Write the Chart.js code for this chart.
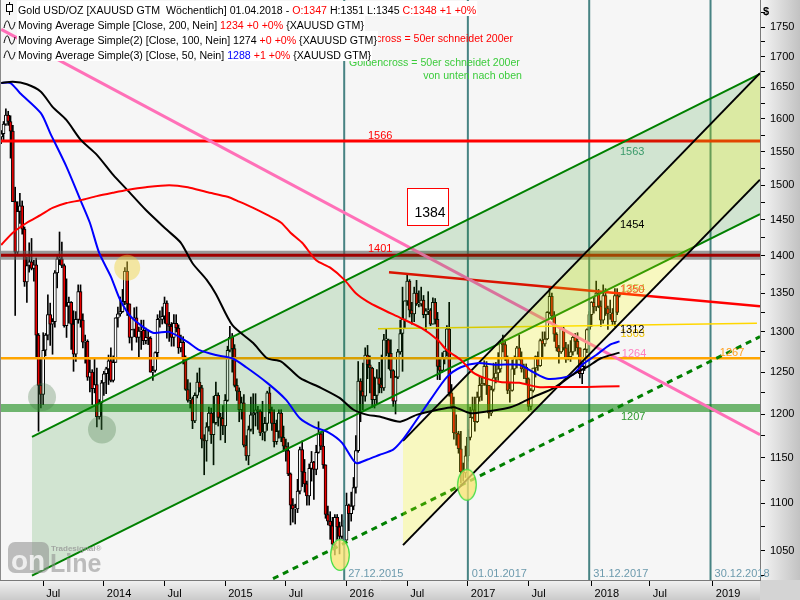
<!DOCTYPE html>
<html><head><meta charset="utf-8">
<script src="https://cdn.jsdelivr.net/npm/chart.js@4.4.1/dist/chart.umd.min.js"></script>
<style>html,body{margin:0;padding:0;background:#fff;}#wrap{width:800px;height:600px;}</style>
</head><body><div id="wrap"><canvas id="c" width="800" height="600"></canvas></div>
<script>
// weekly candles, week 0 = 03.03.2013 (Sunday), last = 01.04.2018
const openP = [1572,1577,1592,1606,1596,1581,1476,1405,1462,1470,1437,1365,1387,1392,1383,1388,1296,1234,1223,1277,1296,1322,1310,1313,1377,1396,1396,1387,1308,1333,1338,1310,1272,1316,1352,1315,1287,1288,1244,1250,1230,1235,1197,1213,
1237,1248,1254,1264,1240,1262,1318,1323,1326,1339,1379,1336,1293,1303,1318,1293,1301,1302,1289,1293,1292,1250,1252,1274,1316,1316,1320,1337,1310,1307,1293,1311,1305,1280,1287,1268,1229,1216,1218,1192,1222,1238,1231,1171,1169,1185,1201,1176,1190,1222,1196,1195,
1186,1216,1277,1293,1279,1234,1227,1205,1213,1164,1152,1182,1199,1201,1205,1203,1178,1179,1189,1225,1205,1189,1168,1180,1201,1173,1163,1158,1132,1098,1094,1094,1113,1159,1134,1121,1108,1138,1145,1137,1156,1177,1163,1142,1088,1081,1076,1057,1085,1075,1065,1076,
1061,1098,1089,1097,1117,1158,1239,1227,1221,1271,1259,1255,1217,1222,1243,1235,1231,1290,1290,1273,1252,1215,1244,1275,1298,1316,1340,1366,1328,1323,1350,1336,1336,1341,1322,1327,1328,1310,1338,1316,1257,1252,1267,1276,1304,1225,1209,1178,1177,1160,1134,1133,
1152,1173,1196,1205,1191,1220,1234,1236,1257,1234,1201,1229,1243,1249,1254,1286,1284,1268,1228,1228,1254,1268,1280,1266,1254,1256,1242,1209,1228,1255,1269,1258,1289,1285,1291,1325,1346,1320,1297,1280,1275,1304,1280,1266,1269,1275,1293,1288,1280,1248,1257,1278,
1303,1322,1338,1332,1350,1333,1315,1347,1330,1323,1324,1313,1347,1347];
const highP = [1582,1596,1616,1612,1605,1590,1497,1476,1488,1477,1440,1398,1418,1424,1394,1397,1298,1267,1299,1298,1348,1337,1317,1380,1400,1433,1419,1389,1369,1345,1339,1327,1326,1361,1361,1323,1296,1290,1265,1253,1267,1255,1217,1240,
1251,1256,1271,1280,1270,1318,1332,1345,1355,1384,1392,1336,1303,1331,1332,1306,1315,1315,1305,1302,1294,1257,1275,1322,1327,1332,1345,1340,1325,1312,1322,1322,1309,1296,1294,1270,1241,1237,1220,1225,1249,1255,1234,1176,1190,1208,1207,1221,1238,1225,1201,1210,
1223,1282,1307,1298,1284,1242,1231,1220,1223,1175,1186,1220,1224,1224,1209,1205,1215,1196,1227,1232,1208,1205,1193,1205,1205,1186,1171,1167,1133,1105,1099,1126,1162,1169,1148,1124,1143,1157,1146,1164,1191,1179,1180,1142,1097,1091,1085,1088,1088,1080,1088,1082,
1111,1099,1112,1128,1175,1263,1242,1261,1280,1283,1270,1256,1244,1253,1262,1271,1297,1304,1291,1290,1253,1245,1278,1315,1358,1340,1375,1368,1338,1358,1367,1353,1358,1347,1330,1352,1330,1344,1343,1325,1266,1274,1276,1308,1338,1235,1220,1199,1180,1180,1144,1163,
1182,1208,1220,1220,1226,1245,1245,1264,1263,1234,1233,1261,1262,1274,1288,1296,1290,1270,1237,1265,1270,1282,1296,1275,1260,1260,1243,1230,1255,1270,1275,1291,1300,1300,1326,1357,1350,1326,1299,1283,1306,1306,1287,1284,1289,1297,1298,1299,1280,1261,1279,1304,
1326,1339,1345,1366,1355,1340,1361,1356,1333,1341,1330,1356,1356,1351];
const lowP = [1562,1566,1590,1590,1540,1476,1321,1402,1445,1430,1359,1338,1378,1381,1366,1269,1180,1207,1211,1270,1290,1283,1272,1306,1357,1388,1384,1306,1293,1311,1278,1251,1263,1311,1306,1280,1261,1240,1226,1211,1225,1185,1194,1182,
1222,1224,1235,1238,1238,1262,1306,1320,1325,1335,1321,1286,1277,1294,1287,1268,1278,1284,1285,1284,1250,1240,1250,1269,1306,1310,1311,1292,1288,1282,1282,1300,1273,1275,1260,1228,1214,1207,1183,1190,1219,1226,1161,1131,1146,1180,1166,1142,1188,1186,1170,1176,
1167,1215,1275,1250,1232,1216,1191,1194,1162,1147,1142,1180,1177,1186,1182,1175,1170,1169,1181,1201,1181,1162,1165,1172,1168,1157,1146,1130,1077,1080,1078,1090,1110,1118,1112,1098,1098,1124,1104,1131,1155,1159,1138,1084,1077,1062,1052,1046,1062,1047,1063,1058,
1061,1071,1081,1093,1111,1156,1191,1205,1215,1242,1225,1208,1207,1212,1225,1225,1228,1270,1254,1243,1209,1200,1242,1272,1251,1305,1334,1319,1310,1313,1334,1332,1333,1318,1302,1322,1308,1310,1310,1241,1241,1250,1260,1270,1221,1206,1171,1164,1155,1122,1124,1128,
1146,1170,1195,1180,1190,1215,1216,1234,1223,1195,1198,1227,1237,1240,1250,1275,1264,1224,1214,1227,1247,1255,1265,1250,1242,1236,1204,1205,1226,1244,1252,1257,1268,1282,1290,1323,1316,1288,1276,1261,1273,1277,1262,1265,1263,1271,1276,1272,1243,1236,1252,1274,
1302,1307,1324,1327,1331,1307,1311,1321,1303,1316,1309,1307,1322,1345];
const closeP = [1577,1592,1606,1596,1581,1476,1405,1462,1470,1437,1365,1387,1392,1383,1388,1296,1234,1223,1277,1296,1322,1310,1313,1377,1396,1396,1387,1308,1333,1338,1310,1272,1316,1352,1315,1287,1288,1244,1250,1230,1235,1197,1213,1237,
1248,1254,1264,1240,1262,1318,1323,1326,1339,1379,1336,1293,1303,1318,1293,1301,1302,1289,1293,1292,1250,1252,1274,1316,1316,1320,1337,1310,1307,1293,1311,1305,1280,1287,1268,1229,1216,1218,1192,1222,1238,1231,1171,1169,1185,1201,1176,1190,1222,1196,1195,1186,
1216,1277,1293,1279,1234,1227,1205,1213,1164,1152,1182,1199,1201,1205,1203,1178,1179,1189,1225,1205,1189,1168,1180,1201,1173,1163,1158,1132,1098,1094,1094,1113,1159,1134,1121,1108,1138,1145,1137,1156,1177,1163,1142,1088,1081,1076,1057,1085,1075,1065,1076,1061,
1098,1089,1097,1117,1158,1239,1227,1221,1271,1259,1255,1217,1222,1243,1235,1231,1290,1290,1273,1252,1215,1244,1275,1298,1316,1340,1366,1328,1323,1350,1336,1336,1341,1322,1327,1328,1310,1338,1316,1257,1252,1267,1276,1304,1225,1209,1178,1177,1160,1134,1133,1152,
1173,1196,1205,1191,1220,1234,1236,1257,1234,1201,1229,1243,1249,1254,1286,1284,1268,1228,1228,1254,1268,1280,1266,1254,1256,1242,1209,1228,1255,1269,1258,1289,1285,1291,1325,1346,1320,1297,1280,1275,1304,1280,1266,1269,1275,1293,1288,1280,1248,1257,1278,1303,
1322,1338,1332,1350,1333,1315,1347,1330,1323,1324,1313,1347,1325,1348];

// moving averages: [week, value]
const ma200 = [[0,1415],[5,1432],[11,1446],[17,1457],[22,1467],[28,1474],[34,1478],[41,1484],[48,1489],[54,1493],[62,1497],[72,1500],[80,1497],[88,1490],[97,1483],[102,1476],[108,1467],[114,1457],[120,1446],[124,1432],[129,1418],[135,1394],[141,1384],[147,1368],[152,1350],[157,1339],[162,1331],[171,1318],[180,1305],[187,1290],[191,1277],[197,1265],[202,1250],[207,1243],[214,1238],[222,1237],[230,1232],[237,1232],[244,1232],[251,1232],[265,1233]];
const ma100 = [[0,1657],[5,1659],[11,1655],[17,1643],[22,1619],[28,1598],[34,1568],[41,1545],[48,1515],[54,1493],[62,1464],[71,1436],[77,1418],[82,1390],[88,1368],[92,1349],[99,1309],[108,1286],[114,1267],[120,1263],[128,1243],[137,1231],[145,1219],[151,1205],[157,1199],[162,1197],[171,1191],[178,1199],[187,1205],[194,1208],[201,1201],[208,1203],[217,1207],[222,1212],[228,1220],[237,1231],[245,1247],[251,1256],[257,1267],[265,1274]];
const ma50 = [[0,1657],[4,1657],[8,1641],[17,1609],[21,1578],[28,1527],[34,1478],[38,1446],[42,1404],[47,1372],[51,1341],[56,1318],[65,1299],[72,1300],[80,1287],[85,1277],[92,1271],[99,1267],[105,1256],[114,1237],[122,1217],[128,1195],[134,1185],[140,1179],[146,1167],[152,1144],[157,1148],[162,1153],[168,1159],[172,1170],[176,1185],[184,1217],[191,1244],[197,1256],[204,1261],[212,1259],[222,1259],[228,1250],[234,1242],[240,1243],[245,1247],[249,1259],[255,1271],[261,1284],[265,1288]];

// drawn tools: [week, price]
const pinkLine = [[0,1746],[325.2,1176]];
const greenUpper = [[13.2,1173.5],[325.2,1672]];
const greenLower = [[13.2,1025],[325.2,1458]];
const blackUpper = [[172.2,1169],[325.2,1673]];
const blackLower = [[172.2,1056],[325.2,1508]];
const dashedGreen = [[116.5,1022],[325.2,1294]];
const redTrend = [[166.2,1378],[325.2,1333]];
const yellowLine = [[161.5,1304],[323.9,1311]];
const levelRed = [[-1,1566],[326,1566]];
const levelDark = [[-1,1401],[326,1401]];
const levelOrange = [[-1,1267],[326,1267]];
const levelGreen = [[-1,1207],[326,1207]];
const yellowCircle = [[54,1384]];
const greyCircles = [[17.5,1220],[43.2,1182]];
const lowEllipses = [[145.2,1046],[199.6,1120]];
const vLineWeeks = [147,200,252,304];
const vLineLabels = ['27.12.2015','01.01.2017','31.12.2017','30.12.2018'];

const xTickWeeks = [18,44,70,96,122,148,174,200,226,253,278,305];
const xTickLabels = ['Jul','2014','Jul','2015','Jul','2016','Jul','2017','Jul','2018','Jul','2019'];
const yTickValues = [1025,1050,1075,1100,1125,1150,1175,1200,1225,1250,1275,1300,1325,1350,1375,1400,1425,1450,1475,1500,1525,1550,1575,1600,1625,1650,1675,1700,1725,1750,1775];

const valueLabels = [['1566',157.2,1569],['1401',157.2,1405],['1563',265.2,1545],['1454',265.2,1439],['1354',265.6,1351],['1350',265.2,1350],['1303',265.4,1294],['1312',265.2,1298],['1264',266.0,1269],['1267',308.0,1270],['1207',265.6,1193]];
const valueLabelColors = ['#ff0000','#ff0000','#3a9a6a','#000000','#c4cc50','#ff5a28','#f0c400','#000000','#ff80c0','#ffa020','#2e9a2e'];

const X_MIN = -0.514, X_MAX = 325.2, Y_MIN = 1020.7, Y_MAX = 1796.7;
const FONT = '"Liberation Sans", Arial, sans-serif';

const wk = closeP.map((_, i) => i);
const P = a => a.map(p => ({x: p[0], y: p[1]}));
function LN(points, color, width, order, extra) {
  return Object.assign({type:'line', data:P(points), borderColor:color, borderWidth:width, pointRadius:0,
    pointHoverRadius:0, fill:false, tension:0, order:order}, extra || {});
}

const ell = document.createElement('canvas'); ell.width = 22; ell.height = 34;
(function(){ const e = ell.getContext('2d'); e.beginPath(); e.ellipse(11,17,9.3,15.3,0,0,Math.PI*2);
  e.fillStyle='rgba(250,228,110,0.75)'; e.fill(); e.strokeStyle='#44dd44'; e.lineWidth=1.2; e.stroke(); })();

const datasets = [];
datasets.push({type:'bar', data: wk.map(i => ({x:i, y:[lowP[i], highP[i]]})), backgroundColor:'#000', borderWidth:0, barThickness:1, grouped:false, order:40});
datasets.push({type:'bar', data: wk.map(i => ({x:i, y:[openP[i], closeP[i]]})), backgroundColor: wk.map(i => closeP[i] >= openP[i] ? '#ffffff' : '#e80000'),
  borderColor:'#000', borderWidth:1, borderSkipped:false, barThickness:3, minBarLength:1, grouped:false, order:39});
vLineWeeks.forEach(w => datasets.push(LN([[w,1000],[w,1850]], '#478383', 2, 30)));
datasets.push(LN(levelDark, 'rgba(95,95,95,0.6)', 9, 29));
datasets.push(LN(levelDark, '#a00000', 3, 28));
datasets.push(LN(levelRed, '#ff0000', 3, 28));
datasets.push(LN(levelOrange, '#ffa500', 2.5, 28));
datasets.push(LN(levelGreen, 'rgba(0,128,0,0.55)', 8, 28));
datasets.push(LN(yellowLine, '#ffd700', 1.5, 27));
datasets.push(LN(pinkLine, '#ff70b8', 3, 27));
datasets.push(LN(redTrend, '#ff0000', 2.5, 27));
datasets.push(LN(dashedGreen, '#008000', 3, 27, {borderDash:[6,5]}));
const iGL = datasets.length; datasets.push(LN(greenLower, '#008000', 2, 20));
datasets.push(LN(greenUpper, '#008000', 2, 20, {fill:{target:iGL}, backgroundColor:'rgba(0,128,0,0.15)'}));
const iBL = datasets.length; datasets.push(LN(blackLower, '#000000', 2, 19));
datasets.push(LN(blackUpper, '#000000', 2, 19, {fill:{target:iBL}, backgroundColor:'rgba(255,255,0,0.22)'}));
datasets.push(LN(ma200, '#ff0000', 2, 8, {tension:0.25}));
datasets.push(LN(ma100, '#000000', 2, 8, {tension:0.25}));
datasets.push(LN(ma50, '#0000ff', 2, 8, {tension:0.25}));
datasets.push({type:'line', data:P(yellowCircle), showLine:false, pointRadius:13, pointBackgroundColor:'rgba(240,210,60,0.45)', pointBorderWidth:0, order:6});
datasets.push({type:'line', data:P(greyCircles), showLine:false, pointRadius:14, pointBackgroundColor:'rgba(70,120,70,0.3)', pointBorderWidth:0, order:6});
datasets.push({type:'line', data:P(lowEllipses), showLine:false, pointRadius:10, pointStyle:ell, order:5});

function fitFont(ctx, text, target, base) {
  ctx.font = base + 'px ' + FONT;
  return base * target / ctx.measureText(text).width;
}

const paint = {
  id: 'paint',
  beforeDraw(chart) {
    const ctx = chart.ctx, a = chart.chartArea;
    ctx.save();
    ctx.fillStyle = '#f6f6f6'; ctx.fillRect(a.left, a.top, a.right - a.left, a.bottom - a.top);
    let g = ctx.createLinearGradient(a.right, 0, 800, 0);
    g.addColorStop(0, '#f6f6f6'); g.addColorStop(1, '#c2c2c2');
    ctx.fillStyle = g; ctx.fillRect(a.right, 0, 800 - a.right, a.bottom);
    g = ctx.createLinearGradient(0, a.bottom, 0, 600);
    g.addColorStop(0, '#f2f2f2'); g.addColorStop(1, '#cacaca');
    ctx.fillStyle = g; ctx.fillRect(0, a.bottom, a.right, 600 - a.bottom);
    ctx.fillStyle = '#d4d4d4'; ctx.fillRect(a.right, a.bottom, 800 - a.right, 600 - a.bottom);
    ctx.restore();
  },
  afterDatasetsDraw(chart) {
    const ctx = chart.ctx, xs = chart.scales.x, ys = chart.scales.y;
    ctx.save();
    ctx.textBaseline = 'alphabetic'; ctx.textAlign = 'left';
    ctx.font = '11px ' + FONT;
    valueLabels.forEach((l, i) => { ctx.fillStyle = valueLabelColors[i];
      ctx.fillText(l[0], xs.getPixelForValue(l[1]), ys.getPixelForValue(l[2])); });
    ctx.fillStyle = '#6c9aad';
    vLineWeeks.forEach((w, i) => ctx.fillText(vLineLabels[i], xs.getPixelForValue(w) + 4, ys.getPixelForValue(1023.9)));
    const bx = Math.round(xs.getPixelForValue(174)) + 0.5, by = Math.round(ys.getPixelForValue(1496)) + 0.5;
    ctx.fillStyle = '#ffffff'; ctx.fillRect(bx, by, 41, 37);
    ctx.strokeStyle = '#ff0000'; ctx.lineWidth = 1; ctx.strokeRect(bx, by, 41, 37);
    ctx.fillStyle = '#000'; ctx.font = '14px ' + FONT; ctx.fillText('1384', bx + 7, by + 28);
    let fs = fitFont(ctx, 'Goldencross = 50er schneidet 200er', 171, 12);
    ctx.font = fs + 'px ' + FONT;
    ctx.fillStyle = '#ff0000'; ctx.fillText('Deathcross = 50er schneidet 200er', 348, 42);
    ctx.fillStyle = '#3ccc3c'; ctx.fillText('Goldencross = 50er schneidet 200er', 349, 66);
    ctx.textAlign = 'right'; ctx.fillText('von unten nach oben', 522, 79); ctx.textAlign = 'left';
    ctx.fillStyle = 'rgba(140,140,140,0.55)';
    ctx.beginPath(); ctx.roundRect(8, 542, 41, 31, 7); ctx.fill();
    ctx.font = 'bold 28px ' + FONT; ctx.fillStyle = 'rgba(255,255,255,0.75)'; ctx.fillText('on', 11, 570);
    ctx.fillStyle = 'rgba(140,140,140,0.55)'; ctx.font = 'bold 25px ' + FONT; ctx.fillText('Line', 50, 572);
    ctx.font = 'bold 8px ' + FONT; ctx.fillStyle = 'rgba(150,150,150,0.8)'; ctx.fillText('Tradesignal\u00ae', 51, 551);
    ctx.strokeStyle = '#8a8a8a'; ctx.lineWidth = 1; ctx.beginPath(); ctx.moveTo(0.5, 0); ctx.lineTo(0.5, chart.chartArea.bottom); ctx.stroke();
    ctx.restore();
  },
  afterDraw(chart) {
    const ctx = chart.ctx;
    ctx.save();
    const rows = [
      [['Gold USD/OZ [XAUUSD GTM  W\u00f6chentlich] 01.04.2018 - ','#000'],['O:1347','#f00'],[' H:1351 L:1345 ','#000'],['C:1348 +1 +0%','#f00']],
      [['Moving Average Simple [Close, 200, Nein] ','#000'],['1234 +0 +0%','#f00'],[' {XAUUSD GTM}','#000']],
      [['Moving Average Simple(2) [Close, 100, Nein] 1274 ','#000'],['+0 +0%','#f00'],[' {XAUUSD GTM}','#000']],
      [['Moving Average Simple(3) [Close, 50, Nein] ','#000'],['1288','#00f'],[' +1 +0%','#f00'],[' {XAUUSD GTM}','#000']]
    ];
    const fs = fitFont(ctx, rows[1].map(s => s[0]).join(''), 346, 12);
    ctx.font = fs + 'px ' + FONT; ctx.textBaseline = 'alphabetic';
    rows.forEach((r, k) => {
      const base = 14 + k * 15;
      const w = ctx.measureText(r.map(s => s[0]).join('')).width;
      ctx.fillStyle = '#ffffff'; ctx.fillRect(17, base - 13, w + 2, 15);
      let x = 18;
      r.forEach(s => { ctx.fillStyle = s[1]; ctx.fillText(s[0], x, base); x += ctx.measureText(s[0]).width; });
      ctx.strokeStyle = '#000'; ctx.lineWidth = 1;
      if (k === 0) {
        ctx.beginPath(); ctx.moveTo(9.5, base - 12); ctx.lineTo(9.5, base + 1); ctx.stroke();
        ctx.fillStyle = '#fff'; ctx.fillRect(6.5, base - 9.5, 6, 7); ctx.strokeRect(6.5, base - 9.5, 6, 7);
      } else {
        const cy = base - 4;
        ctx.beginPath(); ctx.moveTo(4, cy + 3); ctx.bezierCurveTo(6, cy - 6, 8, cy - 6, 9.5, cy);
        ctx.bezierCurveTo(11, cy + 6, 13, cy + 6, 15, cy - 3); ctx.stroke();
      }
    });
    ctx.fillStyle = '#000'; ctx.font = 'bold 11px ' + FONT; ctx.textAlign = 'left'; ctx.fillText('$', 763, 15);
    ctx.restore();
  }
};

new Chart(document.getElementById('c'), {
  type: 'bar',
  data: { datasets: datasets },
  options: {
    responsive: false, animation: false, events: [],
    layout: { padding: 0, autoPadding: false },
    plugins: { legend: { display: false }, tooltip: { enabled: false } },
    scales: {
      x: { type: 'linear', min: X_MIN, max: X_MAX, bounds: 'data', offset: false, position: 'bottom',
        grid: { display: true, drawOnChartArea: false, drawTicks: true, tickLength: 6, tickColor: '#000', offset: false },
        border: { display: true, color: '#7a7a7a' },
        ticks: { autoSkip: false, maxRotation: 0, minRotation: 0, align: 'start', labelOffset: 3, padding: 1, color: '#000',
          font: { family: FONT, size: 11 }, callback: (v, i) => xTickLabels[i] },
        afterBuildTicks: s => { s.ticks = xTickWeeks.map(v => ({ value: v })); },
        afterFit: s => { s.height = 20; s.paddingLeft = 0; s.paddingRight = 0; } },
      y: { type: 'logarithmic', position: 'right', min: Y_MIN, max: Y_MAX, bounds: 'data',
        grid: { display: true, drawOnChartArea: false, drawTicks: true, tickLength: 5, tickColor: '#000' },
        border: { display: true, color: '#7a7a7a' },
        ticks: { autoSkip: false, padding: 5, color: '#000', font: { family: FONT, size: 11 },
          callback: v => (v % 50 === 0 ? String(v) : '') },
        afterBuildTicks: s => { s.ticks = yTickValues.map(v => ({ value: v })); },
        afterFit: s => { s.width = 40; s.paddingTop = 0; s.paddingBottom = 0; } }
    }
  },
  plugins: [paint]
});
</script></body></html>
